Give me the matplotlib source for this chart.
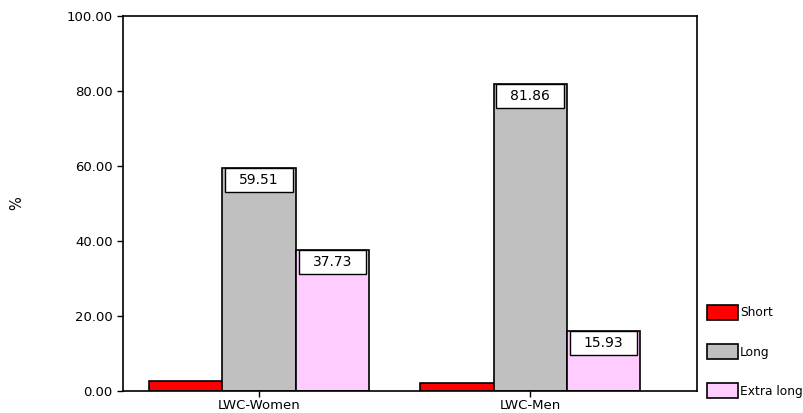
import matplotlib.pyplot as plt
import matplotlib.patches as mpatches
import numpy as np

plt.rcParams['font.family'] = ['DejaVu Sans']

groups = ['LWC-Women', 'LWC-Men']
series = ['Short', 'Long', 'Extra long']
short = [2.76, 2.21]
long_ = [59.51, 81.86]
extra = [37.73, 15.93]
colors = ['#FF0000', '#C0C0C0', '#FFCCFF']
yticks = [0, 20, 40, 60, 80, 100]

fig = plt.figure(figsize=(8.04, 4.13), dpi=100)
ax = fig.add_axes([0.153, 0.053, 0.714, 0.908])

x = np.arange(len(groups))
width = 0.27
values = [short, long_, extra]
offsets = [-width, 0, width]

for k in range(3):
    ax.bar(x + offsets[k], values[k], width=width, color=colors[k],
           edgecolor='black', linewidth=1.2, label=series[k])

# value boxes sitting at the top of the long and extra long bars
box_h = 6.4
for k in [1, 2]:
    for i in range(len(groups)):
        v = values[k][i]
        xc = x[i] + offsets[k]
        w = width * 0.92
        ax.add_patch(mpatches.Rectangle((xc - w / 2, v - box_h), w, box_h,
                                        facecolor='white', edgecolor='black',
                                        linewidth=1.0, zorder=3))
        ax.text(xc, v - box_h / 2, '%.2f' % v, ha='center', va='center',
                fontsize=10, zorder=4)

ax.set_xlim(-0.502, 1.616)
ax.set_ylim(0, 100)
ax.set_yticks(yticks)
ax.set_yticklabels(['%.2f' % t for t in yticks], fontsize=9.5)
ax.set_xticks(x)
ax.set_xticklabels(groups, fontsize=9.5)
ax.tick_params(direction='out', length=4, width=1)
ax.tick_params(axis='x', pad=2)
ax.set_ylabel('%', fontsize=10.5)
ax.yaxis.set_label_coords(-0.172, 0.5)
for s in ax.spines.values():
    s.set_linewidth(1.2)

leg = ax.legend(loc='upper left', bbox_to_anchor=(0.879, 0.262),
                bbox_transform=fig.transFigure, frameon=False,
                fontsize=8.8, handlelength=2.6, handleheight=1.55,
                labelspacing=1.95, handletextpad=0.12, borderpad=0,
                borderaxespad=0)

fig.savefig('out.png', dpi=100)
